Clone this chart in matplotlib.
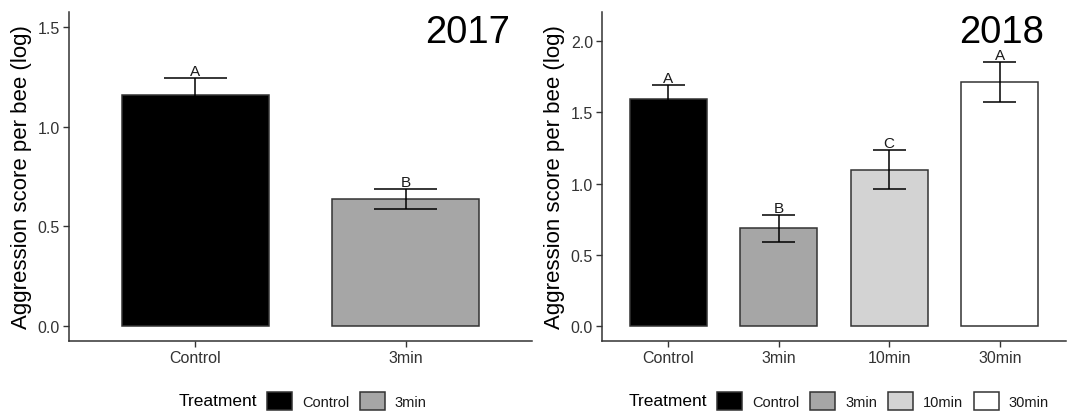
import numpy as np
import matplotlib.pyplot as plt
from matplotlib.patches import Patch

plt.rcParams['font.family'] = ['Liberation Sans', 'DejaVu Sans']

# 2017 data
cats_2017 = ['Control', '3min']
mean_2017 = [1.16, 0.638]
se_2017 = [0.085, 0.05]
lett_2017 = ['A', 'B']

# 2018 data
cats_2018 = ['Control', '3min', '10min', '30min']
mean_2018 = [1.595, 0.685, 1.098, 1.713]
se_2018 = [0.10, 0.093, 0.137, 0.142]
lett_2018 = ['A', 'B', 'C', 'A']

fill = {'Control': '#000000', '3min': '#A6A6A6', '10min': '#D3D3D3', '30min': '#FFFFFF'}
edge = '#333333'


def draw_panel(ax, cats, means, se, letters, year, ymax, ticks):
    x = np.arange(1, len(cats) + 1)
    ax.bar(x, means, width=0.7, color=[fill[c] for c in cats],
           edgecolor=edge, linewidth=1.1, zorder=2)
    lo = np.array(means) - np.array(se)
    hi = np.array(means) + np.array(se)
    ax.vlines(x, lo, hi, color='#000000', linewidth=1.1, zorder=3)
    ax.hlines(lo, x - 0.15, x + 0.15, color='#000000', linewidth=1.1, zorder=3)
    ax.hlines(hi, x - 0.15, x + 0.15, color='#000000', linewidth=1.1, zorder=3)
    for xi, h, l in zip(x, hi, letters):
        ax.annotate(l, (xi, h), xytext=(0, 2), textcoords='offset points',
                    ha='center', va='baseline', fontsize=11, color='#1a1a1a')

    pad = 0.05 * ymax
    ax.set_ylim(-pad, ymax + pad)
    ax.set_xlim(0.4, len(cats) + 0.6)
    ax.set_xticks(x)
    ax.set_xticklabels(cats)
    ax.set_yticks(ticks)
    ax.set_yticklabels([f'{t:.1f}' for t in ticks])
    ax.tick_params(axis='both', direction='out', length=4, width=1.0,
                   color=edge, labelsize=11.5, labelcolor='#333333', pad=2.5)
    for s in ['top', 'right']:
        ax.spines[s].set_visible(False)
    for s in ['left', 'bottom']:
        ax.spines[s].set_color(edge)
        ax.spines[s].set_linewidth(1.1)
    ax.set_ylabel('Aggression score per bee (log)', fontsize=16, labelpad=4)
    ax.text(0.953, 0.993, year, transform=ax.transAxes, ha='right', va='top',
            fontsize=27.5)


fig = plt.figure(figsize=(10.72, 4.14), dpi=100)
ax1 = fig.add_axes([0.0644, 0.1739, 0.4319, 0.7947])
ax2 = fig.add_axes([0.5616, 0.1739, 0.4328, 0.7947])

draw_panel(ax1, cats_2017, mean_2017, se_2017, lett_2017, '2017', 1.5,
           [0.0, 0.5, 1.0, 1.5])
draw_panel(ax2, cats_2018, mean_2018, se_2018, lett_2018, '2018', 2.1,
           [0.0, 0.5, 1.0, 1.5, 2.0])

# legends below each panel
for ax, cats, tx, lx in [(ax1, cats_2017, 0.2397, 0.249), (ax2, cats_2018, 0.6595, 0.669)]:
    handles = [Patch(facecolor=fill[c], edgecolor=edge, linewidth=1.1) for c in cats]
    leg = fig.legend(handles, cats, loc='center left', bbox_to_anchor=(lx, 0.029),
                     ncol=len(cats), frameon=False, fontsize=10.5,
                     handlelength=1.71, handleheight=1.58, handletextpad=0.68,
                     columnspacing=0.75, borderpad=0, borderaxespad=0)
    for t in leg.get_texts():
        t.set_color('#1a1a1a')
    fig.text(tx, 0.029, 'Treatment', ha='right', va='center', fontsize=12.5)

fig.savefig('out.png', dpi=100)
